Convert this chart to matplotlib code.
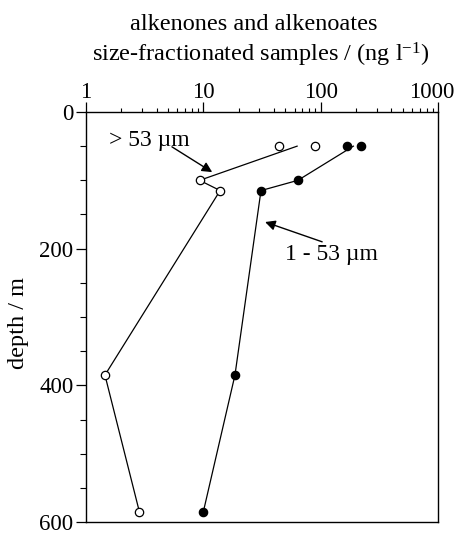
import matplotlib
matplotlib.use("Agg")
import matplotlib.pyplot as plt
from matplotlib.ticker import LogLocator, MultipleLocator, FixedLocator, NullFormatter
import matplotlib.transforms as mtransforms

plt.rcParams['font.family'] = ['Liberation Serif', 'DejaVu Serif']
plt.rcParams['mathtext.fontset'] = 'custom'
plt.rcParams['mathtext.rm'] = 'Liberation Serif'
plt.rcParams['mathtext.it'] = 'Liberation Serif:italic'

# data: >53 um fraction (open circles)
depth_big = [50, 50, 100, 115, 385, 585]
conc_big = [44, 90, 9.3, 13.9, 1.45, 2.85]
line_big_depth = [50, 100, 115, 385, 585]
line_big_conc = [63, 9.3, 13.9, 1.45, 2.85]

# data: 1-53 um fraction (filled circles)
depth_small = [50, 50, 100, 115, 385, 585]
conc_small = [167, 220, 64, 31, 18.6, 10]
line_small_depth = [50, 100, 115, 385, 585]
line_small_conc = [190, 64, 31, 18.6, 10]

x_ticks = [1, 10, 100, 1000]
x_ticklabels = ['1', '10', '100', '1000']
y_ticks = [0, 200, 400, 600]

fig = plt.figure(figsize=(4.58, 5.33), dpi=100)
ax = fig.add_axes([0.1878, 0.0206, 0.9563 - 0.1878, 0.7899 - 0.0206])

ax.plot(line_big_conc, line_big_depth, color='black', lw=0.9, zorder=2)
ax.plot(line_small_conc, line_small_depth, color='black', lw=0.9, zorder=2)
ax.plot(conc_big, depth_big, 'o', ms=6, mfc='white', mec='black', mew=0.9, zorder=3)
ax.plot(conc_small, depth_small, 'o', ms=6, mfc='black', mec='black', mew=0.9, zorder=3)

ax.set_xscale('log')
ax.set_xlim(1, 1000)
ax.set_ylim(600, 0)

ax.xaxis.tick_top()
ax.xaxis.set_major_locator(FixedLocator(x_ticks))
ax.xaxis.set_major_formatter(NullFormatter())
ax.xaxis.set_minor_locator(LogLocator(base=10, subs=range(2, 10)))
ax.xaxis.set_minor_formatter(NullFormatter())
ax.tick_params(axis='x', which='major', direction='out', length=7, width=0.9)
ax.tick_params(axis='x', which='minor', direction='out', length=3, width=0.8)

# top tick labels (last one nudged left to stay within the figure)
xtrans = ax.get_xaxis_transform()
for i, (xv, lab) in enumerate(zip(x_ticks, x_ticklabels)):
    tr = xtrans
    if i == len(x_ticks) - 1:
        tr = xtrans + mtransforms.ScaledTranslation(-6 / 100, 0, fig.dpi_scale_trans)
    ax.text(xv, 1.0, lab, transform=tr + mtransforms.ScaledTranslation(0, 9 / 100, fig.dpi_scale_trans),
            ha='center', va='bottom', fontsize=16.5)

ax.set_yticks(y_ticks)
ax.yaxis.set_minor_locator(MultipleLocator(50))
ax.tick_params(axis='y', which='major', direction='out', length=7, width=0.9,
               labelsize=16.5, pad=2)
ax.tick_params(axis='y', which='minor', direction='out', length=4, width=0.8)

for s in ax.spines.values():
    s.set_linewidth(1.0)

fig.text(19 / 458, 1 - 323 / 533, 'depth / m', rotation=90, ha='center', va='center',
         fontsize=17.5)

fig.text(0.555, 1 - 25 / 533, 'alkenones and alkenoates', ha='center', va='center',
         fontsize=17.5)
fig.text(0.57, 1 - 55 / 533, 'size-fractionated samples / (ng l$^{\\mathrm{-1}}$)',
         ha='center', va='center', fontsize=17.5)

arrow_kw = dict(arrowstyle='-|>', color='black', lw=1.0,
                mutation_scale=15, shrinkA=0, shrinkB=0)
ax.text(1.57, 41, '> 53 µm', fontsize=17, ha='left', va='center')
ax.annotate('', xy=(11.9, 88), xytext=(5.4, 51), arrowprops=arrow_kw)
ax.text(49.7, 209, '1 - 53 µm', fontsize=17, ha='left', va='center')
ax.annotate('', xy=(33.6, 161), xytext=(103, 190), arrowprops=arrow_kw)

fig.savefig('out.png', dpi=100)
